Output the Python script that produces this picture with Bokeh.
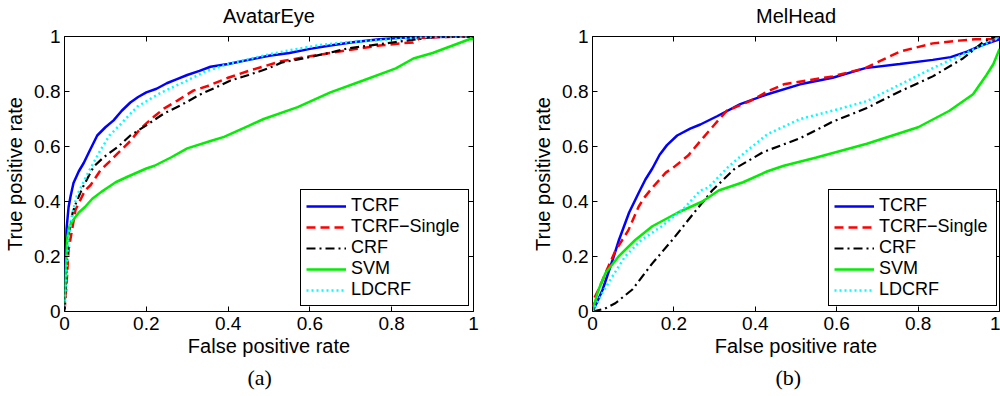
from bokeh.plotting import figure
from bokeh.models import Range1d, FixedTicker, LinearAxis, Title, CustomLabelingPolicy
from bokeh.layouts import row
from bokeh.embed import file_html
from bokeh.resources import INLINE

tick_values = [0, 0.2, 0.4, 0.6, 0.8, 1]
tick_labels = ["0", "0.2", "0.4", "0.6", "0.8", "1"]
series_names = ["TCRF", "TCRF\u2212Single", "CRF", "SVM", "LDCRF"]
x_label = "False positive rate"
y_label = "True positive rate"

# ---- (a) AvatarEye ----
a_tcrf_x = [0, 0.002, 0.005, 0.01, 0.015, 0.022, 0.035, 0.047, 0.06, 0.08, 0.1, 0.12, 0.14, 0.161, 0.18, 0.2,
            0.225, 0.25, 0.275, 0.3, 0.33, 0.357, 0.4, 0.45, 0.5, 0.55, 0.6, 0.65, 0.7, 0.77, 0.82, 0.9, 1.0]
a_tcrf_y = [0, 0.15, 0.3, 0.38, 0.42, 0.467, 0.51, 0.54, 0.58, 0.64, 0.67, 0.695, 0.73, 0.76, 0.78, 0.797,
            0.81, 0.83, 0.845, 0.86, 0.875, 0.89, 0.9, 0.915, 0.93, 0.94, 0.955, 0.967, 0.978, 0.99, 0.995, 0.998, 1.0]
a_single_x = [0, 0.005, 0.01, 0.02, 0.027, 0.05, 0.064, 0.088, 0.11, 0.13, 0.161, 0.18, 0.2, 0.22, 0.243, 0.276,
              0.316, 0.35, 0.4, 0.45, 0.53, 0.6, 0.65, 0.7, 0.77, 0.82, 0.853, 0.87, 0.92, 1.0]
a_single_y = [0, 0.1, 0.225, 0.31, 0.37, 0.44, 0.46, 0.514, 0.545, 0.575, 0.62, 0.655, 0.684, 0.71, 0.738, 0.767,
              0.804, 0.82, 0.85, 0.875, 0.91, 0.928, 0.94, 0.952, 0.967, 0.975, 0.978, 0.995, 0.998, 1.0]
a_crf_x = [0, 0.005, 0.01, 0.02, 0.027, 0.044, 0.071, 0.095, 0.13, 0.161, 0.2, 0.243, 0.284, 0.333, 0.37, 0.406,
           0.45, 0.5, 0.53, 0.6, 0.66, 0.69, 0.75, 0.81, 0.86, 0.9, 1.0]
a_crf_y = [0, 0.15, 0.28, 0.36, 0.39, 0.45, 0.526, 0.56, 0.598, 0.64, 0.677, 0.72, 0.75, 0.79, 0.815, 0.84,
           0.86, 0.885, 0.905, 0.925, 0.945, 0.956, 0.968, 0.98, 0.99, 0.998, 1.0]
a_svm_x = [0, 0.003, 0.007, 0.012, 0.02, 0.035, 0.05, 0.068, 0.09, 0.105, 0.125, 0.154, 0.2, 0.22, 0.26, 0.3,
           0.357, 0.39, 0.45, 0.487, 0.57, 0.65, 0.73, 0.81, 0.853, 0.9, 0.936, 0.99, 1.0]
a_svm_y = [0.03, 0.15, 0.27, 0.31, 0.33, 0.36, 0.38, 0.41, 0.435, 0.45, 0.47, 0.49, 0.52, 0.53, 0.56, 0.593,
           0.62, 0.635, 0.675, 0.70, 0.743, 0.797, 0.84, 0.884, 0.92, 0.94, 0.96, 0.99, 0.99]
a_ldcrf_x = [0, 0.005, 0.01, 0.02, 0.03, 0.056, 0.088, 0.11, 0.13, 0.178, 0.235, 0.3, 0.34, 0.4, 0.5, 0.55,
             0.63, 0.7, 0.8, 0.9, 1.0]
a_ldcrf_y = [0, 0.15, 0.28, 0.36, 0.42, 0.50, 0.587, 0.64, 0.67, 0.745, 0.795, 0.84, 0.87, 0.9, 0.935, 0.95,
             0.97, 0.98, 0.99, 1.0, 1.0]

# ---- (b) MelHead ----
b_tcrf_x = [0, 0.01, 0.025, 0.05, 0.065, 0.09, 0.113, 0.13, 0.147, 0.165, 0.183, 0.208, 0.24, 0.265, 0.306,
            0.363, 0.43, 0.51, 0.59, 0.67, 0.755, 0.836, 0.88, 0.92, 0.96, 1.0]
b_tcrf_y = [0, 0.03, 0.08, 0.19, 0.26, 0.36, 0.43, 0.48, 0.52, 0.57, 0.605, 0.64, 0.665, 0.68, 0.71,
            0.754, 0.79, 0.826, 0.85, 0.885, 0.90, 0.915, 0.925, 0.945, 0.97, 0.99]
b_single_x = [0, 0.005, 0.015, 0.032, 0.056, 0.088, 0.113, 0.125, 0.147, 0.18, 0.2, 0.235, 0.265, 0.3, 0.33,
              0.387, 0.43, 0.47, 0.59, 0.67, 0.755, 0.836, 0.9, 0.94, 1.0]
b_single_y = [0, 0.05, 0.08, 0.14, 0.22, 0.295, 0.38, 0.41, 0.45, 0.505, 0.525, 0.567, 0.62, 0.68, 0.73,
              0.765, 0.80, 0.826, 0.855, 0.885, 0.945, 0.975, 0.985, 0.99, 0.99]
b_crf_x = [0, 0.03, 0.056, 0.098, 0.147, 0.196, 0.25, 0.294, 0.35, 0.42, 0.51, 0.59, 0.674, 0.755, 0.836,
           0.91, 0.96, 0.99, 1.0]
b_crf_y = [0, 0.01, 0.03, 0.08, 0.175, 0.26, 0.36, 0.44, 0.52, 0.58, 0.63, 0.69, 0.74, 0.80, 0.855,
           0.92, 0.98, 1.0, 1.0]
b_svm_x = [0, 0.005, 0.015, 0.032, 0.064, 0.105, 0.147, 0.21, 0.27, 0.31, 0.37, 0.43, 0.47, 0.55, 0.674,
           0.8, 0.877, 0.935, 0.968, 0.985, 1.0]
b_svm_y = [0, 0.03, 0.08, 0.14, 0.20, 0.26, 0.31, 0.36, 0.40, 0.44, 0.47, 0.51, 0.53, 0.56, 0.61,
           0.67, 0.73, 0.79, 0.86, 0.9, 0.955]
b_ldcrf_x = [0, 0.025, 0.05, 0.08, 0.12, 0.17, 0.228, 0.265, 0.284, 0.333, 0.38, 0.43, 0.51, 0.59, 0.674,
             0.755, 0.836, 0.91, 0.99, 1.0]
b_ldcrf_y = [0, 0.07, 0.13, 0.20, 0.26, 0.31, 0.38, 0.44, 0.45, 0.525, 0.585, 0.645, 0.70, 0.73, 0.765,
             0.825, 0.885, 0.935, 0.99, 1.0]

STYLES = [
    dict(line_color="#0000ff", line_width=2.5),
    dict(line_color="#ff0000", line_width=2.5, line_dash="9 5"),
    dict(line_color="#000000", line_width=2.2, line_dash="9 4 2 4"),
    dict(line_color="#00ee00", line_width=2.5),
    dict(line_color="#00ffff", line_width=2.5, line_dash="2 3"),
]

FONT = "Liberation Sans"
NO_LABELS = "for (let i = 0; i < indices.size; i++) { indices.unset(i) }\nreturn indices"


def make_panel(title, caption, series, border_left, border_right):
    p = figure(width=500, height=396, x_range=Range1d(0, 1), y_range=Range1d(0, 1),
               output_backend="svg", toolbar_location=None,
               min_border_left=border_left, min_border_right=border_right,
               min_border_top=36, min_border_bottom=84)
    p.grid.visible = False
    p.outline_line_color = "black"
    p.outline_line_width = 1
    p.outline_line_alpha = 1
    p.background_fill_color = "white"
    p.border_fill_color = "white"

    for name, (xs, ys), st in zip(series_names, series, STYLES):
        p.line(xs, ys, legend_label=name, **st)

    overrides = dict(zip(tick_values, tick_labels))
    for ax in (p.xaxis[0], p.yaxis[0]):
        ax.ticker = FixedTicker(ticks=tick_values)
        ax.major_label_overrides = overrides
        ax.major_tick_in = 5
        ax.major_tick_out = 0
        ax.minor_tick_line_color = None
        ax.axis_line_color = None
        ax.major_tick_line_color = "black"
        ax.major_label_text_font = FONT
        ax.major_label_text_font_size = "19px"
        ax.major_label_text_color = "black"
        ax.axis_label_text_font = FONT
        ax.axis_label_text_font_size = "20px"
        ax.axis_label_text_font_style = "normal"
        ax.axis_label_text_color = "black"
    p.xaxis[0].axis_label = x_label
    p.yaxis[0].axis_label = y_label
    p.xaxis[0].major_label_standoff = 5
    p.xaxis[0].axis_label_standoff = 2
    p.yaxis[0].major_label_standoff = 4
    p.yaxis[0].axis_label_standoff = 5

    # top axis carries the panel title as its axis label; right axis only ticks
    for side in ("above", "right"):
        ax = LinearAxis(ticker=FixedTicker(ticks=tick_values), major_tick_in=5, major_tick_out=0,
                        minor_tick_line_color=None, axis_line_color=None,
                        major_label_text_font_size="0px", major_label_standoff=0,
                        major_label_policy=CustomLabelingPolicy(code=NO_LABELS))
        if side == "above":
            ax.axis_label = title
            ax.axis_label_text_font = FONT
            ax.axis_label_text_font_size = "20px"
            ax.axis_label_text_font_style = "normal"
            ax.axis_label_text_color = "black"
            ax.axis_label_standoff = 10
        p.add_layout(ax, side)

    cap = Title(text=caption, align="left", offset=183, text_font="Liberation Serif",
                text_font_size="22px", text_font_style="normal", text_color="black",
                standoff=10, vertical_align="top")
    p.add_layout(cap, "below")

    lg = p.legend[0]
    lg.location = (236, 5)
    lg.border_line_color = "black"
    lg.border_line_width = 1
    lg.border_line_alpha = 1
    lg.background_fill_alpha = 1
    lg.label_text_font = FONT
    lg.label_text_font_size = "18px"
    lg.label_text_color = "black"
    lg.glyph_width = 40
    lg.glyph_height = 18
    lg.label_height = 18
    lg.label_width = 112
    lg.label_standoff = 5
    lg.spacing = 0
    lg.padding = 5
    lg.margin = 0
    return p


p1 = make_panel("AvatarEye", "(a)",
                [(a_tcrf_x, a_tcrf_y), (a_single_x, a_single_y), (a_crf_x, a_crf_y),
                 (a_svm_x, a_svm_y), (a_ldcrf_x, a_ldcrf_y)], 64, 27)
p2 = make_panel("MelHead", "(b)",
                [(b_tcrf_x, b_tcrf_y), (b_single_x, b_single_y), (b_crf_x, b_crf_y),
                 (b_svm_x, b_svm_y), (b_ldcrf_x, b_ldcrf_y)], 92, 1)

layout = row(p1, p2)
open("out.html", "w").write(file_html(layout, INLINE))
